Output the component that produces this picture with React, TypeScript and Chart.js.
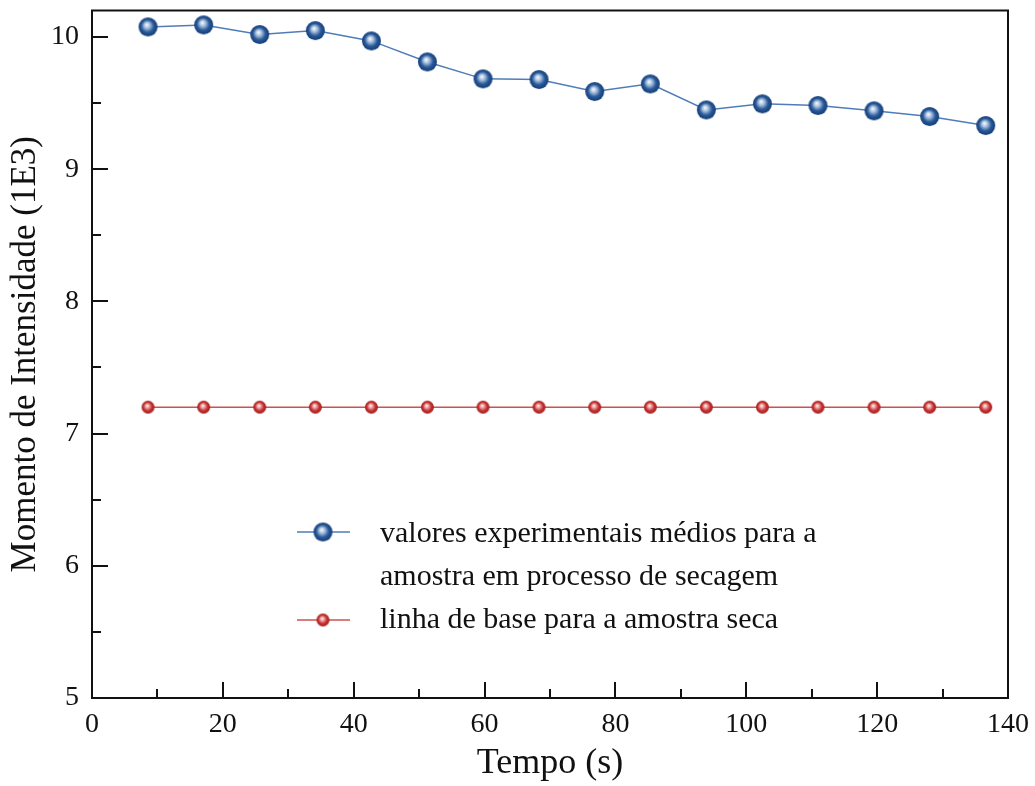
import React, { useEffect, useRef } from "react";
import { Chart, registerables } from "chart.js";

Chart.register(...registerables);

const timeValues = [8.56, 17.07, 25.63, 34.14, 42.7, 51.26, 59.76, 68.32, 76.83, 85.34, 93.9, 102.46, 110.96, 119.52, 128.03, 136.59];
const experimentalValues = [10.076, 10.091, 10.018, 10.048, 9.97, 9.811, 9.683, 9.678, 9.587, 9.645, 9.448, 9.494, 9.481, 9.441, 9.398, 9.33];
const baselineValues = [7.2, 7.2, 7.2, 7.2, 7.2, 7.2, 7.2, 7.2, 7.2, 7.2, 7.2, 7.2, 7.2, 7.2, 7.2, 7.2];
const xTicks = [0, 20, 40, 60, 80, 100, 120, 140];
const yTicks = [5, 6, 7, 8, 9, 10];
const legendLabels = ["valores experimentais médios para a", "amostra em processo de secagem", "linha de base para a amostra seca"];

const FONT = '"Liberation Serif", "Times New Roman", serif';

function makeSphere(r: number, stops: [number, string][]): HTMLCanvasElement {
  const c = document.createElement("canvas");
  const s = Math.ceil(r * 2 + 2);
  c.width = s;
  c.height = s;
  const ctx = c.getContext("2d")!;
  const cx = s / 2;
  const cy = s / 2;
  const g = ctx.createRadialGradient(cx - r * 0.15, cy - r * 0.25, 0, cx, cy, r);
  stops.forEach(([o, col]) => g.addColorStop(o, col));
  ctx.fillStyle = g;
  ctx.beginPath();
  ctx.arc(cx, cy, r, 0, Math.PI * 2);
  ctx.fill();
  return c;
}

export default function App() {
  const ref = useRef<HTMLCanvasElement>(null);
  useEffect(() => {
    const blueSphere = makeSphere(9.5, [
      [0, "#ffffff"],
      [0.3, "#a9c1e0"],
      [0.65, "#2a5a98"],
      [1, "#123c78"],
    ]);
    const redSphere = makeSphere(6.5, [
      [0, "#ffffff"],
      [0.3, "#eba3a3"],
      [0.65, "#c83030"],
      [1, "#9c1f1f"],
    ]);

    const framePlugin = {
      id: "frame",
      beforeDatasetsDraw(chart: any) {
        const { ctx, chartArea } = chart;
        const xs = chart.scales.x;
        const ys = chart.scales.y;
        ctx.save();
        ctx.strokeStyle = "#111";
        ctx.lineWidth = 2;
        ctx.strokeRect(chartArea.left, chartArea.top, chartArea.right - chartArea.left, chartArea.bottom - chartArea.top);
        ctx.beginPath();
        for (let v = 0; v <= 140; v += 10) {
          const px = Math.round(xs.getPixelForValue(v));
          const len = v % 20 === 0 ? 16 : 9;
          ctx.moveTo(px, chartArea.bottom);
          ctx.lineTo(px, chartArea.bottom - len);
        }
        for (let v = 5; v <= 10.01; v += 0.5) {
          const py = Math.round(ys.getPixelForValue(v));
          const len = Math.abs(v - Math.round(v)) < 0.01 ? 16 : 9;
          ctx.moveTo(chartArea.left, py);
          ctx.lineTo(chartArea.left + len, py);
        }
        ctx.stroke();
        ctx.restore();
      },
      afterDraw(chart: any) {
        const { ctx } = chart;
        ctx.save();
        ctx.lineWidth = 1.5;
        ctx.strokeStyle = "#4f7db8";
        ctx.beginPath();
        ctx.moveTo(297, 532);
        ctx.lineTo(350, 532);
        ctx.stroke();
        ctx.drawImage(blueSphere, 323 - blueSphere.width / 2, 532 - blueSphere.height / 2);
        ctx.strokeStyle = "#d05050";
        ctx.beginPath();
        ctx.moveTo(297, 620);
        ctx.lineTo(350, 620);
        ctx.stroke();
        ctx.drawImage(redSphere, 323 - redSphere.width / 2, 620 - redSphere.height / 2);
        ctx.fillStyle = "#111";
        ctx.font = `30px ${FONT}`;
        ctx.textBaseline = "middle";
        ctx.textAlign = "left";
        ctx.fillText(legendLabels[0], 380, 534);
        ctx.fillText(legendLabels[1], 380, 577);
        ctx.fillText(legendLabels[2], 380, 620);
        ctx.restore();
      },
    };

    const chart = new Chart(ref.current!, {
      type: "line",
      data: {
        datasets: [
          {
            label: legendLabels[0] + " " + legendLabels[1],
            data: timeValues.map((x, i) => ({ x, y: experimentalValues[i] })),
            borderColor: "#4f7db8",
            borderWidth: 1.5,
            pointStyle: blueSphere as any,
            pointRadius: 9,
            tension: 0,
          },
          {
            label: legendLabels[2],
            data: timeValues.map((x, i) => ({ x, y: baselineValues[i] })),
            borderColor: "#d05050",
            borderWidth: 1.5,
            pointStyle: redSphere as any,
            pointRadius: 6,
            tension: 0,
          },
        ],
      },
      options: {
        responsive: false,
        animation: false,
        layout: { padding: { top: 10, right: 27, left: 0, bottom: 0 } },
        plugins: { legend: { display: false }, tooltip: { enabled: false } },
        scales: {
          x: {
            type: "linear",
            min: 0,
            max: 140,
            afterFit: (s: any) => {
              s.height = 88;
              s.paddingLeft = 0;
              s.paddingRight = 0;
            },
            afterBuildTicks: (s: any) => {
              s.ticks = xTicks.map((v) => ({ value: v }));
            },
            grid: { display: false, drawTicks: false },
            border: { display: false },
            ticks: { padding: 10, color: "#111", font: { family: FONT, size: 28 }, maxRotation: 0 },
            title: { display: true, text: "Tempo (s)", color: "#111", font: { family: FONT, size: 36 }, padding: { top: 0, bottom: 1 } },
          },
          y: {
            type: "linear",
            min: 5,
            max: 10.2,
            afterFit: (s: any) => {
              s.width = 92;
              s.paddingTop = 0;
              s.paddingBottom = 0;
            },
            afterBuildTicks: (s: any) => {
              s.ticks = yTicks.map((v) => ({ value: v }));
            },
            grid: { display: false, drawTicks: false },
            border: { display: false },
            ticks: { padding: 13, color: "#111", font: { family: FONT, size: 28 } },
            title: { display: true, text: "Momento de Intensidade (1E3)", color: "#111", font: { family: FONT, size: 35 }, padding: { top: 5, bottom: 0 } },
          },
        },
      },
      plugins: [framePlugin],
    });
    return () => chart.destroy();
  }, []);
  return (
    <div style={{ position: "fixed", left: 0, top: 0, width: 1035, height: 786, background: "#fff" }}>
      <canvas ref={ref} width={1035} height={786} />
    </div>
  );
}
